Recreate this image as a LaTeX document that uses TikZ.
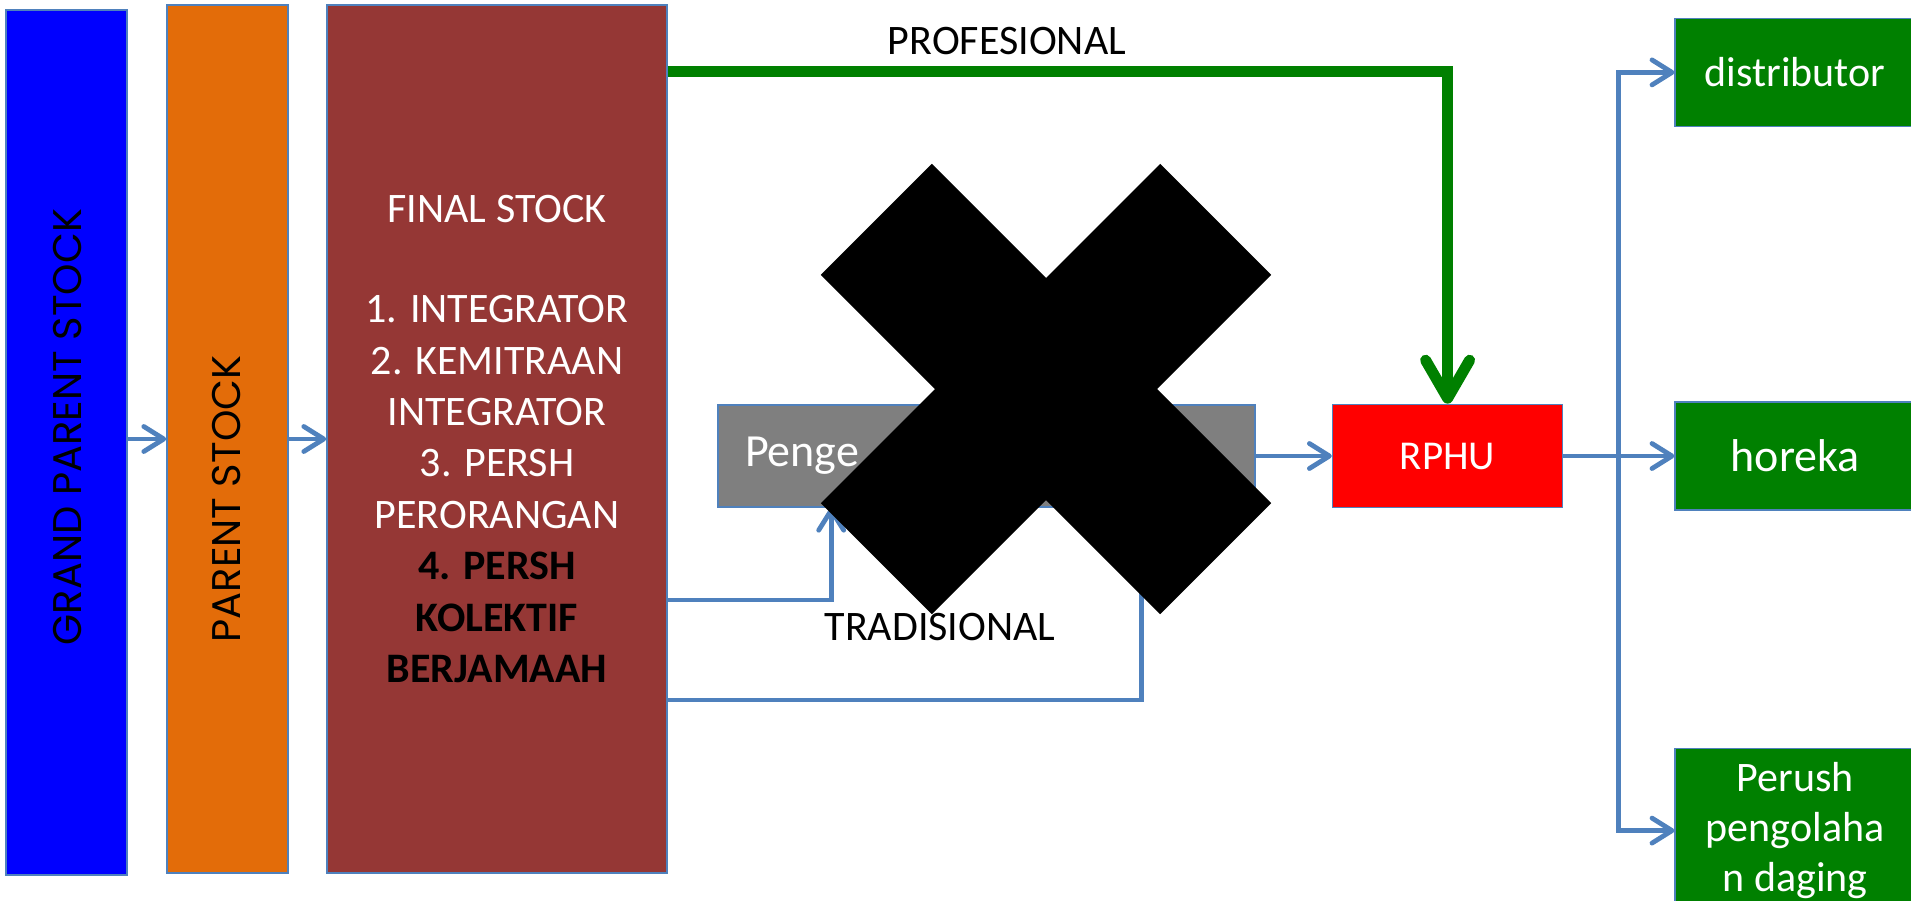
\documentclass[tikz,border=0pt]{standalone}
\usepackage{fontspec}
\setmainfont{Carlito}
\newfontfamily\gothicfont{Poppins}
\usetikzlibrary{positioning,arrows.meta}

\definecolor{gpsblue}{HTML}{0000FF}
\definecolor{psorange}{HTML}{E36C09}
\definecolor{fsbrown}{HTML}{953735}
\definecolor{penggrey}{HTML}{7F7F7F}
\definecolor{linkblue}{HTML}{4F81BD}
\definecolor{progreen}{HTML}{008000}

\begin{document}
\begin{tikzpicture}[x=0.5pt,y=-0.5pt,node distance=20pt]
	\tikzstyle{every node}=[font=\fontsize{21}{25.7}\selectfont, inner sep=0pt]
	\tikzstyle{box}=[draw=linkblue, line width=0.8pt, align=center, text=white]
	\tikzstyle{stock}=[font=\gothicfont\fontsize{20}{20}\selectfont, rotate=90]
	\tikzstyle{link}=[draw=linkblue, line width=2.4pt, -{Straight Barb[length=10pt,width=12.5pt,round]}]
	\tikzstyle{pro}=[draw=progreen, line width=5.5pt, -{Straight Barb[length=19pt,width=22pt,round]}]

	\useasboundingbox (0,0) rectangle (1911,900);
	\clip (0,0) rectangle (1911,900);

	% stock columns
	\node[box, fill=gpsblue, minimum width=60.5pt, minimum height=432.5pt] (gps) at (66.5,442.5) {};
	\node[stock] (gpslabel) at (68,427) {GRAND PARENT STOCK};
	\node[box, fill=psorange, minimum width=60.5pt, minimum height=434pt] (ps) at (227.5,439) {};
	\node[stock] (pslabel) at (227,499) {PARENT STOCK};
	\node[box, fill=fsbrown, minimum width=170pt, minimum height=434pt] (fs) at (497,439)
		{FINAL STOCK\\[24.5pt]1. INTEGRATOR\\2. KEMITRAAN\\INTEGRATOR\\3. PERSH\\PERORANGAN\\
		\textcolor{black}{\textbf{4. PERSH}}\\\textcolor{black}{\textbf{KOLEKTIF}}\\\textcolor{black}{\textbf{BERJAMAAH}}};

	% middle
	\node[box, fill=penggrey, minimum width=268.5pt, minimum height=51pt, text width=241.5pt,
		inner xsep=13.5pt, align=left, font=\fontsize{23}{27}\selectfont] (peng) at (986.5,456) {Penge};
	\node[box, fill=red, minimum width=115pt, minimum height=51.5pt, font=\fontsize{20.5}{24}\selectfont,
		right=38pt of peng] (rphu) {RPHU};

	% buyers
	\node[box, fill=progreen, minimum width=120pt, minimum height=54pt, font=\fontsize{23}{27}\selectfont,
		right=55.5pt of rphu] (horeka) {horeka};
	\node[box, fill=progreen, minimum width=120pt, minimum height=54pt, above=137pt of horeka] (dist) {distributor};
	\node[box, fill=progreen, minimum width=120pt, minimum height=82pt, font=\fontsize{21}{25}\selectfont,
		below=118.5pt of horeka] (perush) {Perush\\pengolaha\\n daging};

	\node[anchor=base] (prolabel) at (1007,54) {PROFESIONAL};
	\node[anchor=base] (tradlabel) at (940,640) {TRADISIONAL};

	\draw[link] (gps.east |- ps.west) -- (ps.west);
	\draw[link] (ps) -- (fs);
	\draw[pro] ([yshift=-33.5pt]fs.north east) -| (rphu.north);
	\draw[link] ([yshift=-80.5pt]fs.east) -| ([xshift=57pt]peng.south west);
	\draw[link] ([yshift=-130.5pt]fs.east) -| ([xshift=212pt]peng.south west);
	\draw[link] (peng) -- (rphu);
	\draw[link] (rphu) -- (horeka);
	\draw[link] ([xshift=27.5pt]rphu.east) |- (dist.west);
	\draw[link] ([xshift=27.5pt]rphu.east) |- (perush.west);

	% the cross
	\fill[black, rotate around={45:(1046,389)}] (806,310.5) rectangle (1286,467.5);
	\fill[black, rotate around={-45:(1046,389)}] (806,310.5) rectangle (1286,467.5);
\end{tikzpicture}
\end{document}
